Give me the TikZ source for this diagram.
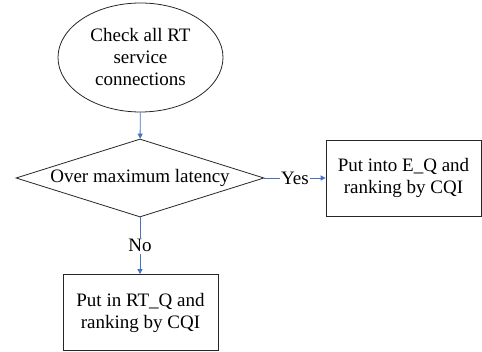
\documentclass[tikz,border=0pt]{standalone}
\usepackage{fontspec}
\setmainfont{Liberation Serif}
\usetikzlibrary{shapes.geometric,arrows.meta}
\definecolor{flowblue}{RGB}{68,114,196}
\begin{document}
\begin{tikzpicture}[x=1pt,y=-1pt,
  every node/.style={font=\fontsize{19}{22}\selectfont},
  shapeline/.style={draw=black!85, line width=0.8pt},
  startnode/.style={shapeline, ellipse, minimum width=165pt, minimum height=109pt, inner sep=0pt, align=center},
  decision/.style={shapeline, diamond, aspect=3.18, minimum width=248pt, minimum height=78pt, inner sep=0pt},
  procbox/.style={shapeline, rectangle, minimum width=155pt, minimum height=76pt, inner sep=0pt, align=center},
  flow/.style={draw=flowblue, line width=0.9pt, -{Triangle[length=5pt,width=5pt]}},
  branchlabel/.style={fill=white, inner sep=1.5pt}
]
\useasboundingbox (0,0) rectangle (482,352);
\node[startnode] (check) at (140.5,57.5) {Check all RT\\service\\connections};
\node[decision] (latency) at (140,178) {Over maximum latency};
\node[procbox] (eq) at (403.5,178) {Put into E\_Q and\\ranking by CQI};
\node[procbox] (rtq) at (140.5,312.5) {Put in RT\_Q and\\ranking by CQI};
\draw[flow] (check) -- (latency);
\draw[flow] (latency.east) -- node[branchlabel] {Yes} (eq.west);
\draw[flow] (latency.south) -- node[branchlabel] {No} (rtq.north -| latency.south);
\end{tikzpicture}
\end{document}
